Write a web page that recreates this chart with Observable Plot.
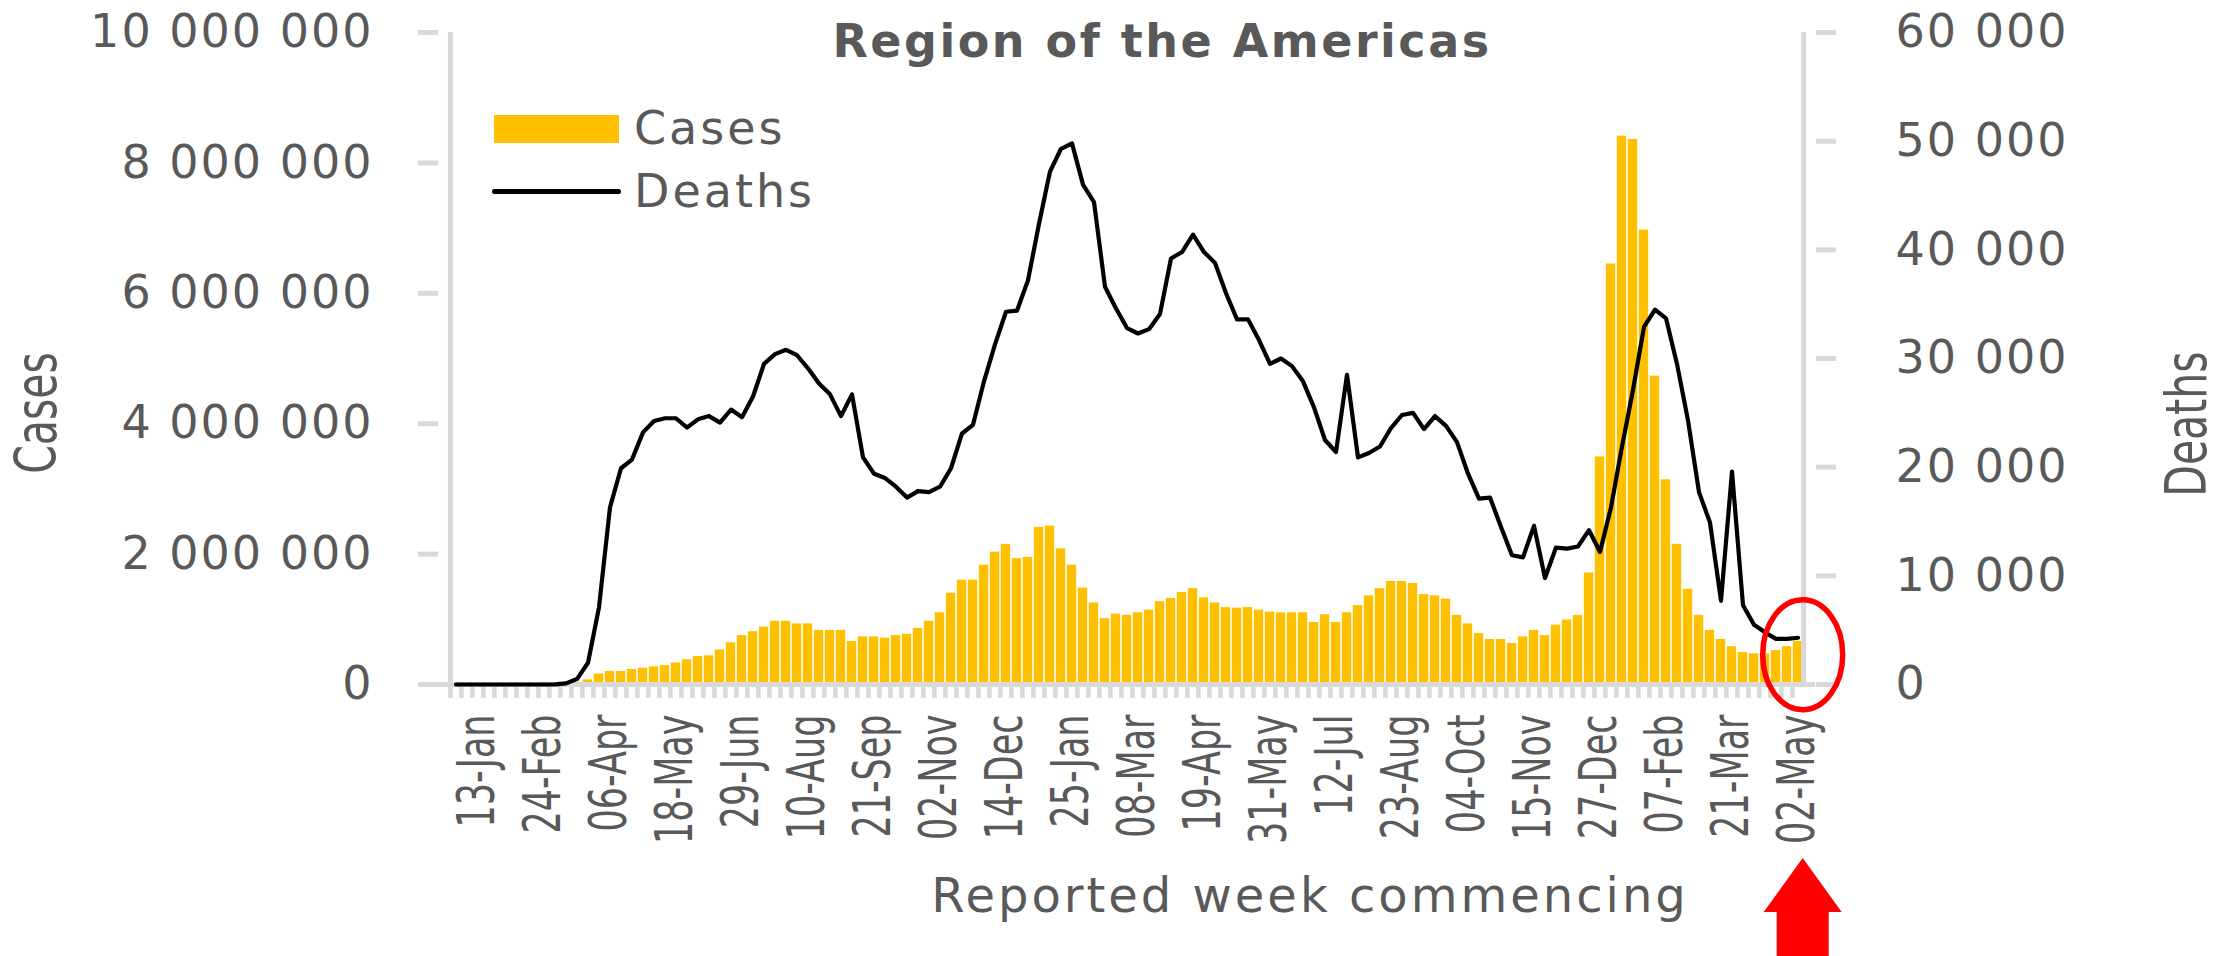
<!DOCTYPE html>
<html>
<head>
<meta charset="utf-8">
<script src="https://cdn.jsdelivr.net/npm/d3@7"></script>
<script src="https://cdn.jsdelivr.net/npm/@observablehq/plot@0.6"></script>
<style>
  body { margin: 0; background: #ffffff; }
  #wrap { position: relative; width: 2226px; height: 956px; overflow: hidden;
          font-family: "DejaVu Sans", sans-serif; color: #595959; background: #fff; }
  #wrap svg { position: absolute; left: 0; top: 0; }
  .ov { position: absolute; white-space: nowrap; line-height: 1; }
  g[aria-label="y-axis tick label"] text { letter-spacing: 2px; }
</style>
</head>
<body>
<div id="wrap"></div>
<script>
// ---- categories: weekly reporting periods, week commencing 30-Dec-2019 ... 02-May-2022
const firstWeek = "2019-12-30";
const weekCount = 123;
const weeks = d3.range(weekCount).map(i =>
  d3.utcFormat("%Y-%m-%d")(d3.utcDay.offset(new Date(firstWeek + "T00:00:00Z"), 7 * i)));
// labelled weeks (every 6th week, starting 13-Jan)
const tickLabels = ["13-Jan","24-Feb","06-Apr","18-May","29-Jun","10-Aug","21-Sep","02-Nov","14-Dec",
  "25-Jan","08-Mar","19-Apr","31-May","12-Jul","23-Aug","04-Oct","15-Nov","27-Dec","07-Feb","21-Mar","02-May"];
const tickWeeks = weeks.filter((d, i) => i % 6 === 2);

// ---- weekly cases (millions)
const casesM = [
  0, 0, 0, 0, 0, 0, 0, 0, 0, 0.002, 0.006, 0.02,
  0.07, 0.16, 0.20, 0.20, 0.23, 0.25, 0.27, 0.29, 0.33, 0.38, 0.43, 0.44,
  0.53, 0.64, 0.75, 0.81, 0.88, 0.97, 0.97, 0.93, 0.93, 0.83, 0.83, 0.83,
  0.66, 0.73, 0.73, 0.71, 0.75, 0.77, 0.86, 0.97, 1.10, 1.40, 1.60, 1.60,
  1.83, 2.03, 2.15, 1.93, 1.95, 2.41, 2.43, 2.08, 1.83, 1.48, 1.25, 1.01,
  1.08, 1.06, 1.10, 1.14, 1.27, 1.32, 1.41, 1.47, 1.33, 1.25, 1.18, 1.17,
  1.18, 1.14, 1.11, 1.10, 1.10, 1.10, 0.95, 1.07, 0.95, 1.10, 1.21, 1.36,
  1.47, 1.58, 1.58, 1.55, 1.38, 1.36, 1.31, 1.06, 0.93, 0.78, 0.69, 0.69,
  0.63, 0.73, 0.83, 0.75, 0.91, 0.99, 1.06, 1.71, 3.49, 6.45, 8.41, 8.36,
  6.97, 4.73, 3.14, 2.15, 1.46, 1.06, 0.83, 0.69, 0.58, 0.49, 0.47, 0.47,
  0.52, 0.58, 0.66
];
// ---- weekly deaths (thousands)
const deathsK = [
  0, 0, 0, 0, 0, 0, 0, 0, 0, 0.02, 0.1, 0.5,
  2.0, 7.1, 16.3, 19.9, 20.7, 23.2, 24.25, 24.5, 24.5, 23.65, 24.4, 24.7,
  24.1, 25.3, 24.6, 26.5, 29.5, 30.4, 30.8, 30.3, 29.1, 27.7, 26.7, 24.7,
  26.7, 20.9, 19.4, 19.0, 18.2, 17.2, 17.8, 17.7, 18.2, 19.9, 23.1, 23.9,
  27.9, 31.3, 34.3, 34.4, 37.2, 42.4, 47.2, 49.3, 49.8, 46.0, 44.4, 36.6,
  34.6, 32.8, 32.3, 32.7, 34.1, 39.2, 39.8, 41.4, 39.8, 38.8, 36.0, 33.6,
  33.6, 31.7, 29.5, 30.0, 29.3, 27.9, 25.5, 22.5, 21.4, 28.5, 20.9, 21.3,
  21.9, 23.6, 24.8, 25.0, 23.5, 24.7, 23.8, 22.3, 19.4, 17.1, 17.2, 14.5,
  11.9, 11.7, 14.6, 9.8, 12.6, 12.5, 12.7, 14.2, 12.2, 16.3, 21.9, 27.1,
  32.9, 34.5, 33.7, 29.5, 24.3, 17.7, 14.9, 7.7, 19.6, 7.3, 5.5, 4.8,
  4.2, 4.2, 4.3
];
// ---- axis ticks
const casesTicks = [0, 2e6, 4e6, 6e6, 8e6, 10e6];
const deathsTicks = [0, 10000, 20000, 30000, 40000, 50000, 60000];
const casesMax = 10e6, deathsMax = 60000;
const SCALE = casesMax / deathsMax;

const data = weeks.map((w, i) => ({week: w, cases: casesM[i] * 1e6, deaths: deathsK[i] * 1000}));

const W = 2226, H = 956, mL = 438, mR = 411, mT = 32, mB = 272;
const bw = (W - mL - mR) / weeks.length;
const fmtNum = d => d3.format(",")(Math.round(d)).replace(/,/g, " ");
const labelOf = d => tickLabels[tickWeeks.indexOf(d)];
const grey = "#d9d9d9", txt = "#595959";

const plot = Plot.plot({
  width: W, height: H,
  marginLeft: mL, marginRight: mR, marginTop: mT, marginBottom: mB,
  style: {background: "#fff", color: txt, fontFamily: "DejaVu Sans", overflow: "visible"},
  x: {type: "band", domain: weeks, padding: 0, axis: null},
  y: {domain: [0, casesMax], axis: null},
  marks: [
    Plot.barY(data, {x: "week", y: "cases", fill: "#FFC000", insetLeft: 0.8, insetRight: 0.8}),
    Plot.ruleY([0], {stroke: grey, strokeWidth: 5}),
    Plot.ruleX([weeks[0]], {dx: -bw / 2, stroke: grey, strokeWidth: 5}),
    Plot.ruleX([weeks[weeks.length - 1]], {dx: bw / 2, stroke: grey, strokeWidth: 5}),
    Plot.axisX({ticks: weeks, tickSize: 14, tickFormat: () => "", stroke: grey, strokeWidth: 4.5, dx: -bw / 2, label: null}),
    Plot.axisX({ticks: tickWeeks, tickSize: 0, tickPadding: 30, tickRotate: -90, tickFormat: labelOf,
                fontSize: 35, fill: txt, label: null}),
    Plot.axisY({anchor: "left", ticks: casesTicks, tickSize: 20, tickPadding: 45, tickFormat: fmtNum,
                fontSize: 46, stroke: grey, strokeWidth: 5, fill: txt, label: null}),
    Plot.axisY({anchor: "right", ticks: deathsTicks.map(d => d * SCALE), tickSize: 20, tickPadding: 60,
                tickFormat: d => fmtNum(d / SCALE),
                fontSize: 46, stroke: grey, strokeWidth: 5, fill: txt, label: null}),
    Plot.lineY(data, {x: "week", y: d => d.deaths * SCALE, stroke: "#000", strokeWidth: 4.2, strokeLinejoin: "round"})
  ]
});

const wrap = document.getElementById("wrap");
wrap.appendChild(plot);

// condensed look of the rotated date labels
d3.select(plot).selectAll('g[aria-label="x-axis tick label"] text').each(function () {
  const t = this.getAttribute("transform") || "";
  if (t.includes("rotate")) this.setAttribute("transform", t + " scale(1,1.45)");
});

// annotation: red ellipse around the latest weeks, red arrow below the axis
const xs = plot.scale("x"), ys = plot.scale("y");
const xRight = xs.range[1];
const bwS = (xs.range[1] - xs.range[0]) / weeks.length;
const ellCx = xRight - 1.1 * bwS;
const ellCy = ys.apply(0.45e6);
const baseY = ys.apply(0);
const svgSel = d3.select(plot);
svgSel.append("ellipse").attr("cx", ellCx).attr("cy", ellCy).attr("rx", 40).attr("ry", 55)
  .attr("fill", "none").attr("stroke", "#ff0000").attr("stroke-width", 5.5);
const arrowTop = baseY + 174, headBase = baseY + 228;
svgSel.append("polygon")
  .attr("points", [[ellCx, arrowTop], [ellCx + 39, headBase], [ellCx + 26, headBase], [ellCx + 26, H],
                   [ellCx - 26, H], [ellCx - 26, headBase], [ellCx - 39, headBase]].map(p => p.join(",")).join(" "))
  .attr("fill", "#ff0000");

// overlay texts: title, legend, axis titles
function ov(html, css) {
  const d = document.createElement("div");
  d.className = "ov";
  d.innerHTML = html;
  Object.assign(d.style, css);
  wrap.appendChild(d);
  return d;
}
ov("Region of the Americas", {left: "1162px", top: "18px", transform: "translateX(-50%)",
  fontSize: "46px", fontWeight: "bold", letterSpacing: "2.5px"});
ov("", {left: "494px", top: "115px", width: "125px", height: "28px", background: "#FFC000"});
ov("Cases", {left: "634px", top: "105px", fontSize: "46px", letterSpacing: "3px"});
ov("", {left: "492px", top: "189px", width: "129px", height: "5px", background: "#000", borderRadius: "3px"});
ov("Deaths", {left: "634px", top: "168px", fontSize: "46px", letterSpacing: "3px"});
ov("Cases", {left: "37px", top: "413px", fontSize: "41px",
  transform: "translate(-50%,-50%) rotate(-90deg) scale(1,1.4)"});
ov("Deaths", {left: "2187px", top: "424px", fontSize: "41px",
  transform: "translate(-50%,-50%) rotate(-90deg) scale(1,1.4)"});
ov("Reported week commencing", {left: "1310px", top: "871px", transform: "translateX(-50%)",
  fontSize: "48px", letterSpacing: "3px"});
</script>
</body>
</html>
